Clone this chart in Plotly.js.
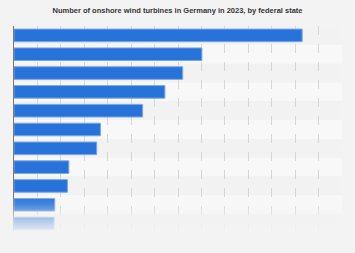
<!DOCTYPE html>
<html>
<head>
<meta charset="utf-8">
<script src="https://cdn.plot.ly/plotly-3.0.1.min.js"></script>
<style>html,body{margin:0;padding:0;background:#f3f3f3;}#chart{width:355px;height:253px;}</style>
</head>
<body>
<div id="chart"></div>
<script>
const states = ["Lower Saxony","Brandenburg","North Rhine-Westphalia","Schleswig-Holstein","Saxony-Anhalt","Mecklenburg-Western Pomerania","Rhineland-Palatinate","Hesse","Bavaria","Thuringia","Saxony"];
const turbines = [6150, 4010, 3600, 3220, 2745, 1845, 1765, 1170, 1140, 870, 855];
const titleText = "Number of onshore wind turbines in Germany in 2023, by federal state";

const bands = states.map((s, i) => ({
  type: "rect", xref: "paper", yref: "y", layer: "below",
  x0: 0, x1: 1, y0: i - 0.5, y1: i + 0.5,
  fillcolor: i % 2 === 0 ? "#f2f2f2" : "#f8f8f8", line: {width: 0}
}));

const fadeSvg = '<svg xmlns="http://www.w3.org/2000/svg" width="10" height="100" preserveAspectRatio="none"><defs><linearGradient id="g" x1="0" y1="0" x2="0" y2="1"><stop offset="0" stop-color="#f3f3f3" stop-opacity="0"/><stop offset="0.2" stop-color="#f3f3f3" stop-opacity="0.15"/><stop offset="0.45" stop-color="#f3f3f3" stop-opacity="0.55"/><stop offset="0.75" stop-color="#f3f3f3" stop-opacity="0.88"/><stop offset="0.85" stop-color="#f3f3f3" stop-opacity="1"/><stop offset="1" stop-color="#f3f3f3" stop-opacity="1"/></linearGradient></defs><rect width="10" height="100" fill="url(#g)"/></svg>';

const data = [{
  type: "bar", orientation: "h",
  y: states, x: turbines,
  width: 0.67,
  marker: {color: "#2873d9", line: {color: "#7aa6e8", width: 1}},
  hoverinfo: "x+y"
}];

const layout = {
  width: 355, height: 253,
  margin: {l: 14, r: 13, t: 26, b: 20, pad: 0},
  paper_bgcolor: "#f3f3f3", plot_bgcolor: "#f3f3f3",
  title: {text: titleText, x: 0.5, xanchor: "center", y: 0.96, yanchor: "middle",
          font: {family: "Liberation Sans, Arial, sans-serif", size: 7.5, color: "#333333", weight: "bold"}},
  xaxis: {range: [0, 7000], dtick: 500, showgrid: true, gridcolor: "#d6d6d6", griddash: "dash", gridwidth: 1,
          showticklabels: false, zeroline: false, showline: false, ticks: ""},
  yaxis: {autorange: "reversed", showticklabels: false, ticks: "", showgrid: false,
          showline: true, linecolor: "#777777", linewidth: 1, zeroline: false},
  shapes: bands,
  images: [{source: "data:image/svg+xml;base64," + btoa(fadeSvg), xref: "paper", yref: "paper",
            x: -0.1, y: 0.179, sizex: 1.2, sizey: 0.213, xanchor: "left", yanchor: "top", sizing: "stretch", layer: "above"}],
  showlegend: false, bargap: 0.33
};

Plotly.newPlot("chart", data, layout, {displayModeBar: false, staticPlot: true});
</script>
</body>
</html>
